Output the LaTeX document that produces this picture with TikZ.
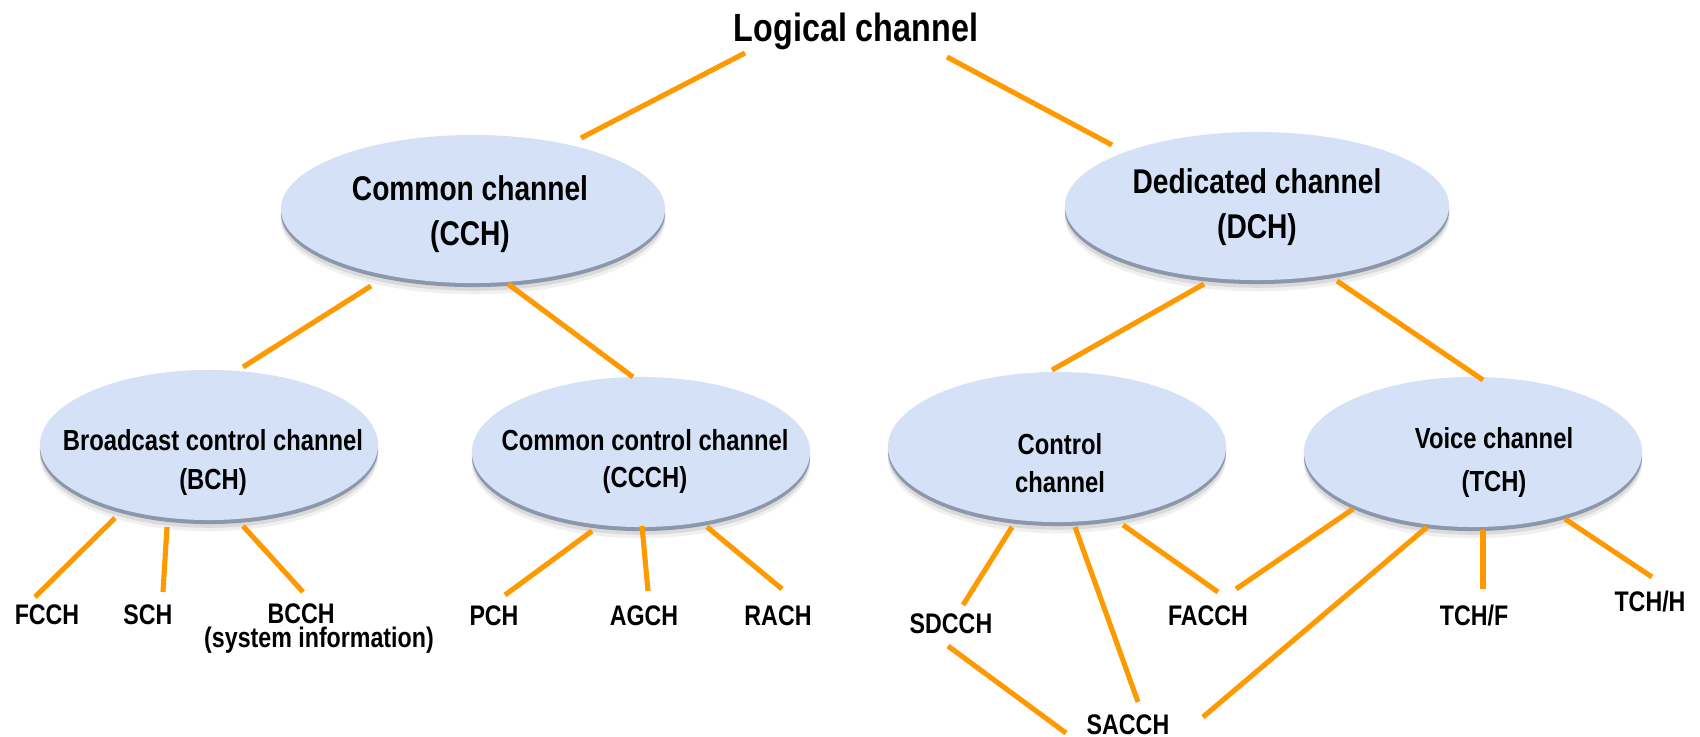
\documentclass[tikz,border=0pt]{standalone}
\usepackage{fontspec}
\setmainfont{Liberation Sans}[FakeStretch=0.82]
\usetikzlibrary{shapes.geometric,shadows,calc}
\definecolor{face}{HTML}{D5E1F6}
\definecolor{rim}{HTML}{8D97AB}
\definecolor{orng}{HTML}{FF9900}
\begin{document}
\begin{tikzpicture}[x=0.01cm, y=-0.01cm,
  bubble/.style={ellipse, inner sep=0pt, fill=face, draw=none,
    drop shadow={shadow xshift=0pt, shadow yshift=-3.2pt, fill=black, opacity=0.06},
    drop shadow={shadow xshift=0pt, shadow yshift=-2.2pt, fill=black, opacity=0.09},
    drop shadow={shadow xshift=0pt, shadow yshift=-1.15pt, fill=rim, opacity=1}},
  big/.style={bubble, minimum width=3.84cm, minimum height=1.48cm},
  small/.style={bubble, minimum width=3.38cm, minimum height=1.50cm},
  ttl/.style={font=\fontsize{11.2pt}{13pt}\selectfont\bfseries, inner sep=0pt, anchor=base},
  btxt/.style={font=\fontsize{9.76pt}{12.8pt}\selectfont\bfseries, align=center, inner sep=0pt},
  stxt/.style={font=\fontsize{8.25pt}{11pt}\selectfont\bfseries, align=center, inner sep=0pt},
  lbl/.style={font=\fontsize{8.05pt}{6.8pt}\selectfont\bfseries, inner sep=0pt, anchor=base},
  conn/.style={draw=orng, line width=1.45pt}]
\fill[white] (0,0) rectangle (1700,737);
\useasboundingbox (0,0) rectangle (1700,737);

% ellipses
\node[big] (cch) at (473,209) {};
\node[big] (dch) at (1257,206) {};
\node[small] (bch) at (209,445) {};
\node[small] (ccch) at (641,452) {};
\node[small] (ctrl) at (1057,447) {};
\node[small] (voice) at (1473,452) {};

% ellipse texts
\node[btxt] (cch-t) at (470,214) {Common channel\\(CCH)};
\node[btxt] (dch-t) at (1257,207) {Dedicated channel\\(DCH)};
\node[stxt] (bch-t) at (213,462.5) {Broadcast control channel\\(BCH)};
\node[stxt, font=\fontsize{8.25pt}{10.8pt}\selectfont\bfseries] (ccch-t) at (645,461.5) {Common control channel\\(CCCH)};
\node[stxt, font=\fontsize{8.25pt}{10.8pt}\selectfont\bfseries] (ctrl-t) at (1060,463.4) {Control\\channel};
\node[stxt, font=\fontsize{8.25pt}{12.5pt}\selectfont\bfseries] (voice-t) at (1494,462.5) {Voice channel\\(TCH)};

% title and labels
\node[ttl] (title) at (856,42) {Logical channel};
\node[lbl] (fcch) at (47,624) {FCCH};
\node[lbl] (sch) at (148,624) {SCH};
\node[lbl, anchor=center, align=center] (bcch) at (319,629) {BCCH\hspace*{10.2pt}\\(system information)};
\node[lbl] (pch) at (494,625) {PCH};
\node[lbl] (agch) at (644,625) {AGCH};
\node[lbl] (rach) at (778,625) {RACH};
\node[lbl] (sdcch) at (951,633) {SDCCH};
\node[lbl] (facch) at (1208,625) {FACCH};
\node[lbl] (sacch) at (1128,734) {SACCH};
\node[lbl] (tchf) at (1474,625) {TCH/F};
\node[lbl] (tchh) at (1650,611) {TCH/H};

% connectors
\draw[conn] ($(title.base)+(-111,11)$) -- ($(cch)+(108,-71)$);
\draw[conn] ($(title.base)+(91,15)$) -- ($(dch)+(-145,-61)$);
\draw[conn] ($(cch)+(-102,77)$) -- ($(bch)+(34,-78)$);
\draw[conn] ($(cch)+(35,75)$) -- ($(ccch)+(-8,-75)$);
\draw[conn] ($(dch)+(-53,78)$) -- ($(ctrl)+(-5,-77)$);
\draw[conn] ($(dch)+(80,75)$) -- ($(voice)+(10,-72)$);
\draw[conn] ($(bch)+(-94,73)$) -- ($(fcch.base)+(-12,-27)$);
\draw[conn] ($(bch)+(-42,82)$) -- ($(sch.base)+(15,-32)$);
\draw[conn] ($(bch)+(34,81)$) -- ($(bcch)+(-16,-37)$);
\draw[conn] ($(ccch)+(-49,79)$) -- ($(pch.base)+(11,-30)$);
\draw[conn] ($(ccch)+(1,74)$) -- ($(agch.base)+(4,-34)$);
\draw[conn] ($(ccch)+(66,75)$) -- ($(rach.base)+(4,-36)$);
\draw[conn] ($(ctrl)+(-45,80)$) -- ($(sdcch.base)+(12,-28)$);
\draw[conn] ($(ctrl)+(18,80)$) -- ($(sacch.base)+(10,-32)$);
\draw[conn] ($(ctrl)+(66,78)$) -- ($(facch.base)+(10,-33)$);
\draw[conn] ($(voice)+(-120,57)$) -- ($(facch.base)+(28,-36)$);
\draw[conn] ($(voice)+(-46,75)$) -- ($(sacch.base)+(75,-17)$);
\draw[conn] ($(voice)+(10,78)$) -- ($(tchf.base)+(9,-36)$);
\draw[conn] ($(voice)+(92,67)$) -- ($(tchh.base)+(2,-34)$);
\draw[conn] ($(sdcch.base)+(-3,13)$) -- ($(sacch.base)+(-62,-1)$);
\end{tikzpicture}
\end{document}
